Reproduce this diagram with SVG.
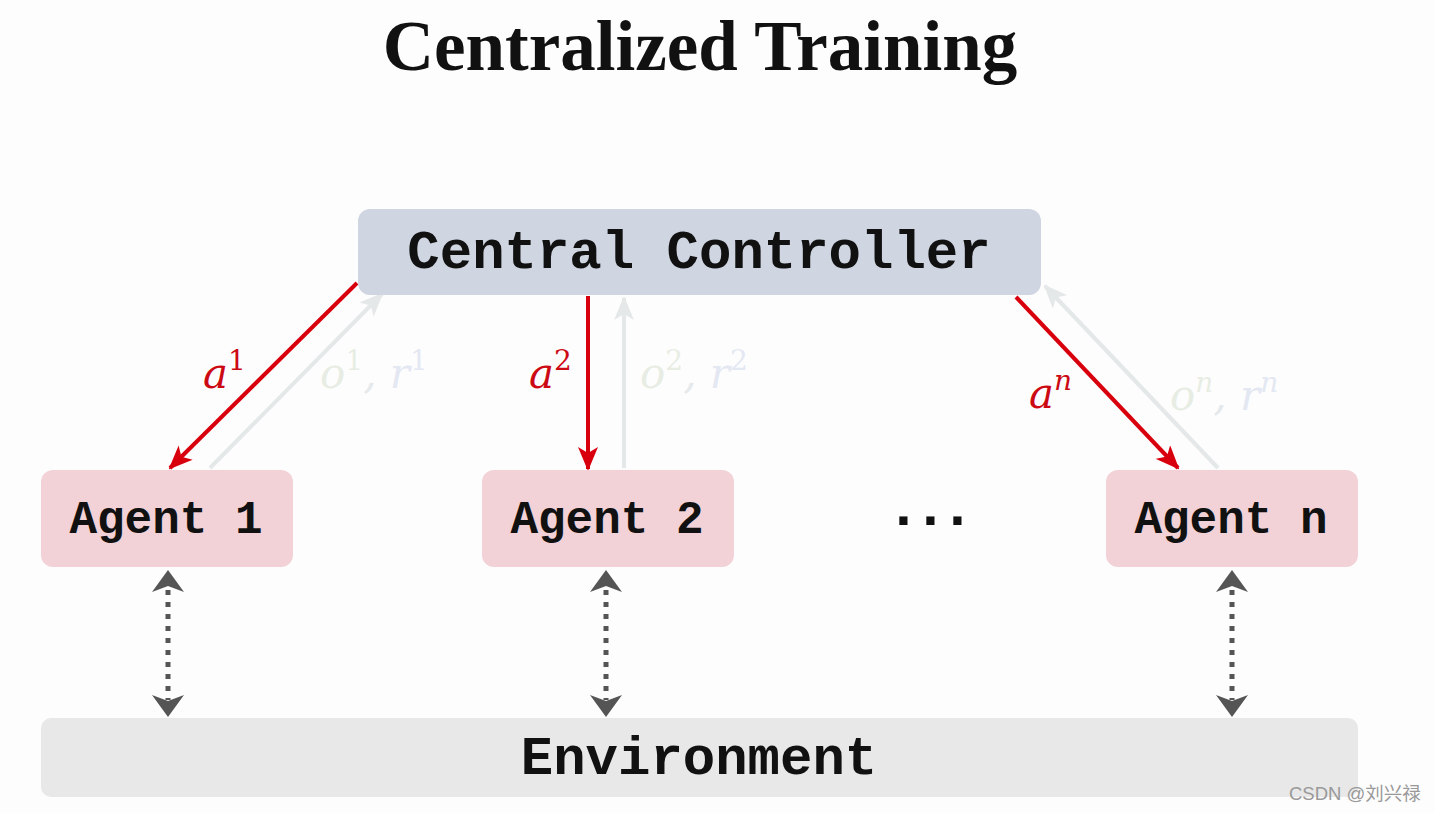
<svg xmlns="http://www.w3.org/2000/svg" width="1435" height="813" viewBox="0 0 1435 813">
<defs>
<style>
.mono{font-family:"Liberation Mono","Courier New",monospace;font-weight:bold;fill:#111;}
.math{font-family:"DejaVu Serif","Liberation Serif",serif;font-style:italic;font-size:42px;}
.red{stroke:#d9000d;stroke-width:4;fill:none;}
.gray{stroke:#e5e8e8;stroke-width:4;fill:none;}
.dot{stroke:#555;stroke-width:5;stroke-dasharray:5 7;fill:none;}
</style>
<marker id="hr" viewBox="0 0 24 20" refX="22" refY="10" markerWidth="24" markerHeight="20" markerUnits="userSpaceOnUse" orient="auto">
<path d="M0,0 L24,10 L0,20 L6,10 Z" fill="#d9000d"/>
</marker>
<marker id="hg" viewBox="0 0 24 20" refX="22" refY="10" markerWidth="24" markerHeight="20" markerUnits="userSpaceOnUse" orient="auto">
<path d="M0,0 L24,10 L0,20 L6,10 Z" fill="#e5e8e8"/>
</marker>
</defs>
<rect width="1435" height="813" fill="#fefdfe"/>
<text x="700" y="70" text-anchor="middle" font-family="Liberation Serif,serif" font-weight="bold" font-size="71" fill="#111">Centralized Training</text>

<g id="connectors">
<line class="gray" x1="210" y1="468" x2="382" y2="294" marker-end="url(#hg)"/>
<line class="gray" x1="624" y1="468" x2="624" y2="298" marker-end="url(#hg)"/>
<line class="gray" x1="1218" y1="468" x2="1045" y2="286" marker-end="url(#hg)"/>
<line class="red" x1="357" y1="283" x2="170" y2="468" marker-end="url(#hr)"/>
<line class="red" x1="588" y1="296" x2="588" y2="469" marker-end="url(#hr)"/>
<line class="red" x1="1016" y1="297" x2="1178" y2="468" marker-end="url(#hr)"/>
<g>
<line class="dot" x1="168" y1="590" x2="168" y2="700"/>
<path d="M168,570 L184,592 L168,586 L152,592 Z" fill="#555"/>
<path d="M168,717 L184,695 L168,701 L152,695 Z" fill="#555"/>
</g>
<g>
<line class="dot" x1="606" y1="590" x2="606" y2="700"/>
<path d="M606,570 L622,592 L606,586 L590,592 Z" fill="#555"/>
<path d="M606,717 L622,695 L606,701 L590,695 Z" fill="#555"/>
</g>
<g>
<line class="dot" x1="1232" y1="590" x2="1232" y2="700"/>
<path d="M1232,570 L1248,592 L1232,586 L1216,592 Z" fill="#555"/>
<path d="M1232,717 L1248,695 L1232,701 L1216,695 Z" fill="#555"/>
</g>
<text class="math" x="203" y="388" fill="#cc0a14">a<tspan font-style="normal" font-size="28" dy="-18">1</tspan></text>
<text class="math" x="529" y="388" fill="#cc0a14">a<tspan font-style="normal" font-size="28" dy="-18">2</tspan></text>
<text class="math" x="1029" y="408" fill="#cc0a14">a<tspan font-size="28" dy="-18">n</tspan></text>
<text class="math" x="320" y="388"><tspan fill="#e8ede4">o</tspan><tspan fill="#e8ede4" font-style="normal" font-size="28" dy="-18">1</tspan><tspan fill="#e6e9ec" dy="18">, </tspan><tspan fill="#e3e8f2">r</tspan><tspan fill="#e3e8f2" font-style="normal" font-size="28" dy="-18">1</tspan></text>
<text class="math" x="640" y="388"><tspan fill="#e8ede4">o</tspan><tspan fill="#e8ede4" font-style="normal" font-size="28" dy="-18">2</tspan><tspan fill="#e6e9ec" dy="18">, </tspan><tspan fill="#e3e8f2">r</tspan><tspan fill="#e3e8f2" font-style="normal" font-size="28" dy="-18">2</tspan></text>
<text class="math" x="1170" y="410"><tspan fill="#e8ede4">o</tspan><tspan fill="#e8ede4" font-size="28" dy="-18">n</tspan><tspan fill="#e6e9ec" dy="18">, </tspan><tspan fill="#e3e8f2">r</tspan><tspan fill="#e3e8f2" font-size="28" dy="-18">n</tspan></text>
</g>

<g id="central">
<rect x="358" y="209" width="683" height="86" rx="12" fill="#cfd5e1"/>
<text class="mono" x="699" y="268" text-anchor="middle" font-size="54">Central Controller</text>
</g>
<g id="agent1">
<rect x="41" y="470" width="252" height="97" rx="12" fill="#f2d2d7"/>
<text class="mono" x="166" y="533" text-anchor="middle" font-size="46">Agent 1</text>
</g>
<g id="agent2">
<rect x="482" y="470" width="252" height="97" rx="12" fill="#f2d2d7"/>
<text class="mono" x="607" y="533" text-anchor="middle" font-size="46">Agent 2</text>
</g>
<g id="ellipsis">
<text class="mono" x="886" y="525" font-size="58" letter-spacing="-7.8">...</text>
</g>
<g id="agentn">
<rect x="1106" y="470" width="252" height="97" rx="12" fill="#f2d2d7"/>
<text class="mono" x="1231" y="533" text-anchor="middle" font-size="46">Agent n</text>
</g>
<g id="environment">
<rect x="41" y="718" width="1317" height="79" rx="10" fill="#e8e8e8"/>
<text class="mono" x="699" y="774" text-anchor="middle" font-size="54">Environment</text>
</g>
<text x="1289" y="800" font-family="Liberation Sans,Noto Sans CJK SC,sans-serif" font-size="18.5" fill="#999">CSDN @刘兴禄</text>
</svg>
